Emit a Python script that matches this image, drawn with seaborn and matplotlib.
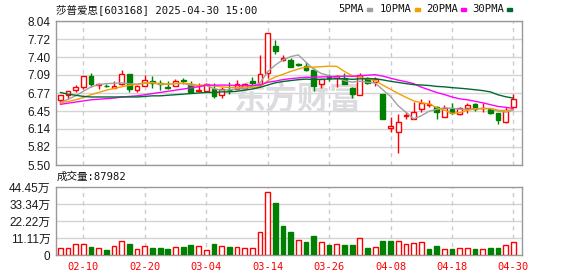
import numpy as np
import pandas as pd
import matplotlib
matplotlib.use("Agg")
import matplotlib.pyplot as plt
from matplotlib.patches import Rectangle
import seaborn as sns

# ---------------- data ----------------
dates = ["02-05", "02-06", "02-07", "02-10", "02-11", "02-12", "02-13", "02-14", "02-17", "02-18",
         "02-19", "02-20", "02-21", "02-24", "02-25", "02-26", "02-27", "02-28",
         "03-03", "03-04", "03-05", "03-06", "03-07", "03-10", "03-11", "03-12", "03-13", "03-14",
         "03-17", "03-18", "03-19", "03-20", "03-21", "03-24", "03-25", "03-26", "03-27", "03-28", "03-31",
         "04-01", "04-02", "04-03", "04-07", "04-08", "04-09", "04-10", "04-11", "04-14", "04-15",
         "04-16", "04-17", "04-18", "04-21", "04-22", "04-23", "04-24", "04-25", "04-28", "04-29", "04-30"]

opens = [6.65, 6.73, 6.83, 6.87, 7.07, 6.91, 6.90, 6.86, 6.93, 7.10,
         6.82, 6.90, 6.98, 6.95, 6.88, 6.90, 7.00, 6.91, 6.81, 6.80,
         6.84, 6.73, 6.83, 6.84, 6.85, 6.98, 6.92, 7.13, 7.60, 7.36,
         7.35, 7.28, 7.25, 7.18, 6.93, 7.06, 7.04, 7.04, 6.86, 6.73,
         7.04, 6.97, 6.75, 6.16, 6.09, 6.36, 6.31, 6.48, 6.56, 6.53,
         6.35, 6.48, 6.40, 6.50, 6.57, 6.50, 6.48, 6.41, 6.26, 6.52]
closes = [6.73, 6.80, 6.87, 7.07, 6.92, 6.93, 6.89, 6.90, 7.10, 6.84,
          6.90, 7.00, 6.94, 6.92, 6.86, 6.99, 6.98, 6.79, 6.83, 6.92,
          6.72, 6.84, 6.82, 6.92, 6.93, 6.94, 7.11, 7.83, 7.51, 7.38,
          7.23, 7.26, 7.18, 6.89, 7.01, 7.04, 7.07, 6.93, 6.76, 7.09,
          6.94, 7.02, 6.32, 6.18, 6.26, 6.38, 6.43, 6.59, 6.58, 6.43,
          6.50, 6.41, 6.51, 6.56, 6.48, 6.50, 6.42, 6.29, 6.47, 6.66]
highs = [6.74, 6.81, 6.91, 7.07, 7.12, 6.95, 6.92, 6.99, 7.17, 7.10,
         6.91, 7.08, 7.07, 7.00, 6.98, 7.02, 7.03, 6.99, 6.94, 6.94,
         6.94, 6.87, 6.96, 7.00, 6.94, 7.06, 7.44, 7.83, 7.70, 7.44,
         7.38, 7.30, 7.31, 7.21, 7.02, 7.11, 7.08, 7.13, 6.87, 7.12,
         7.05, 7.06, 6.75, 6.35, 6.40, 6.44, 6.62, 6.66, 6.65, 6.54,
         6.56, 6.59, 6.53, 6.59, 6.60, 6.59, 6.49, 6.42, 6.53, 6.76]
lows = [6.59, 6.66, 6.79, 6.84, 6.88, 6.84, 6.87, 6.86, 6.91, 6.79,
        6.78, 6.89, 6.85, 6.83, 6.84, 6.89, 6.92, 6.79, 6.78, 6.80,
        6.69, 6.69, 6.75, 6.84, 6.84, 6.91, 6.87, 7.03, 7.45, 7.34,
        7.22, 7.24, 7.15, 6.81, 6.85, 6.98, 6.88, 6.92, 6.68, 6.73,
        6.93, 6.89, 6.32, 6.09, 5.72, 6.32, 6.31, 6.44, 6.53, 6.31,
        6.34, 6.40, 6.39, 6.41, 6.46, 6.43, 6.40, 6.22, 6.24, 6.52]
volumes_wan = [4.55, 4.55, 6.9, 6.9, 5.2, 4.3, 3.5, 5.6, 8.9, 7.2,
               3.7, 5.6, 4.55, 4.55, 3.9, 5.0, 5.2, 6.5, 5.6, 3.25,
               7.2, 5.6, 5.2, 5.0, 4.55, 4.55, 15.0, 41.4, 33.8, 18.9,
               15.0, 9.5, 8.5, 12.4, 8.5, 6.5, 7.2, 6.5, 6.5, 10.8,
               4.55, 5.0, 9.1, 9.1, 9.1, 7.2, 7.8, 8.2, 3.9, 5.9,
               3.7, 3.9, 4.3, 4.3, 3.9, 3.7, 4.55, 4.55, 6.5, 8.80]
vol_up = [1, 1, 1, 1, 0, 1, 0, 1, 1, 0, 1, 1, 0, 0, 0, 1, 0, 0, 1, 1,
          0, 1, 0, 1, 1, 1, 1, 1, 0, 0, 0, 1, 0, 0, 1, 0, 1, 0, 0, 1,
          0, 1, 0, 0, 1, 1, 1, 1, 0, 0, 1, 0, 1, 1, 0, 1, 0, 0, 1, 1]

# moving-average values for the first bars (history before the window)
ma5_head = [6.60, 6.66, 6.72, 6.80]
ma10_head = [6.60, 6.62, 6.65, 6.69, 6.74, 6.78, 6.82, 6.85, 6.88]
ma20_head = [6.57, 6.59, 6.61, 6.63, 6.65, 6.66, 6.67, 6.68, 6.70, 6.71,
             6.72, 6.74, 6.76, 6.78, 6.80, 6.82, 6.84, 6.86, 6.88]
ma30_head = [6.78, 6.75, 6.73, 6.71, 6.70, 6.70, 6.70, 6.70, 6.70, 6.70,
             6.70, 6.71, 6.72, 6.72, 6.73, 6.74, 6.75, 6.76, 6.77, 6.78,
             6.78, 6.79, 6.79, 6.80, 6.82, 6.84, 6.87, 6.91, 6.95]

price_ticks = [5.50, 5.82, 6.14, 6.45, 6.77, 7.09, 7.40, 7.72, 8.04]
vol_ticks = [0, 11.11, 22.22, 33.34, 44.45]
vol_tick_labels = ["0", "11.11万", "22.22万", "33.34万", "44.45万"]
date_ticks = ["02-10", "02-20", "03-04", "03-14", "03-26", "04-08", "04-18", "04-30"]
title = "莎普爱思[603168] 2025-04-30 15:00"
vol_label = "成交量:87982"
ma_names = ["5PMA", "10PMA", "20PMA", "30PMA"]
ma_windows = [5, 10, 20, 30]
watermark = "东方财富"

# ---------------- style ----------------
RED = "#ff0000"
GREEN = "#008000"
MA_COLORS = ["#a0a0a0", "#f2a000", "#ff00ff", "#006b30"]
GRID = "#d4d4d4"
SPINE = "#999999"
TXT = "#1a1a1a"
MONO = ["DejaVu Sans Mono", "Noto Sans CJK SC"]

sns.set_style("white")
plt.rcParams["font.family"] = ["Liberation Sans", "Noto Sans CJK SC", "DejaVu Sans"]

W, H = 578, 276
fig = plt.figure(figsize=(W / 100, H / 100), dpi=100)
fig.patch.set_facecolor("white")
L, R = 56, 522
ax = fig.add_axes([L / W, 1 - 165 / H, (R - L) / W, 144 / H])
axv = fig.add_axes([L / W, 1 - 255 / H, (R - L) / W, 68 / H])

n = len(closes)
x = np.arange(n)
o = np.array(opens); c = np.array(closes); hi = np.array(highs); lo = np.array(lows)
df = pd.DataFrame({"i": x, "close": c})
heads = [ma5_head, ma10_head, ma20_head, ma30_head]
for name, win, head in zip(ma_names, ma_windows, heads):
    ma = df["close"].rolling(win).mean().to_numpy()
    ma[:len(head)] = head
    df[name] = ma

xlim = (-0.56, 60.12)
xt = [dates.index(d) for d in date_ticks]

# ---------------- price panel ----------------
ax.set_xlim(*xlim)
ax.set_ylim(price_ticks[0], price_ticks[-1])
for yv in price_ticks:
    ax.axhline(yv, color=GRID, lw=1, zorder=0)
for xv in xt:
    ax.axvline(xv, color="#cccccc", lw=1, ls=(0, (3, 3)), zorder=0)

ax.text(297 / W, 1 - 101 / H, watermark, transform=fig.transFigure, ha="center", va="center",
        fontsize=23, fontweight="bold", color="#dcdce0", family=["Noto Sans CJK SC"], zorder=0.5)

up = c >= o
cols = np.where(up, RED, GREEN)
ax.vlines(x, lo, hi, colors=cols, lw=1, zorder=2)
body_lo = np.minimum(o, c)
body_h = np.maximum(np.abs(c - o), 0.004)
ax.bar(x, body_h, bottom=body_lo, width=0.62, color=np.where(up, "white", GREEN),
       edgecolor=cols, linewidth=1, zorder=3)

for name, col in zip(ma_names, MA_COLORS):
    sns.lineplot(data=df, x="i", y=name, ax=ax, color=col, lw=1, zorder=4)

ax.set_xlabel(""); ax.set_ylabel("")
ax.set_xticks(xt)
ax.set_xticklabels([])
ax.tick_params(axis="x", length=0)
ax.set_yticks(price_ticks)
ax.set_yticklabels([f"{v:.2f}" for v in price_ticks], fontsize=8.5, color=TXT)
ax.tick_params(axis="y", length=3, width=1, color=SPINE, pad=1, direction="out")
for s in ax.spines.values():
    s.set_color(SPINE); s.set_linewidth(1); s.set_visible(True)

# ---------------- volume panel ----------------
axv.set_xlim(*xlim)
axv.set_ylim(0, vol_ticks[-1])
for yv in vol_ticks[1:-1]:
    axv.axhline(yv, color=GRID, lw=1, zorder=0)
for xv in xt:
    axv.axvline(xv, color="#cccccc", lw=1, ls=(0, (3, 3)), zorder=0)
vu = np.array(vol_up) == 1
axv.bar(x, volumes_wan, width=0.62, color=np.where(vu, "white", GREEN),
        edgecolor=np.where(vu, RED, GREEN), linewidth=1, zorder=3)
axv.set_xticks(xt)
axv.set_xticklabels(date_ticks, fontsize=7.5, color=RED, family=MONO)
axv.tick_params(axis="x", length=0, pad=5)
axv.set_yticks(vol_ticks)
axv.set_yticklabels(vol_tick_labels, fontsize=8.5, color=TXT)
axv.tick_params(axis="y", length=3, width=1, color=SPINE, pad=1, direction="out")
for s in axv.spines.values():
    s.set_color(SPINE); s.set_linewidth(1); s.set_visible(True)

# ---------------- texts ----------------
fig.text(56 / W, 1 - 9.5 / H, title, ha="left", va="center", fontsize=7.6, color="#111111", family=MONO)
fig.text(57 / W, 1 - 177 / H, vol_label, ha="left", va="center", fontsize=7.6, color="#111111", family=MONO)

leg_x = [338, 380, 426, 472]
for lx, name, col in zip(leg_x, ma_names, MA_COLORS):
    fig.text(lx / W, 1 - 9.5 / H, name, ha="left", va="center", fontsize=7.6, color="#111111", family=MONO)
    w_chars = len(name) * 6.25
    fig.patches.append(Rectangle(((lx + w_chars + 4) / W, 1 - 11 / H), 5 / W, 3 / H,
                                 transform=fig.transFigure, color=col, figure=fig))

fig.savefig("out.png", dpi=100, facecolor="white")
